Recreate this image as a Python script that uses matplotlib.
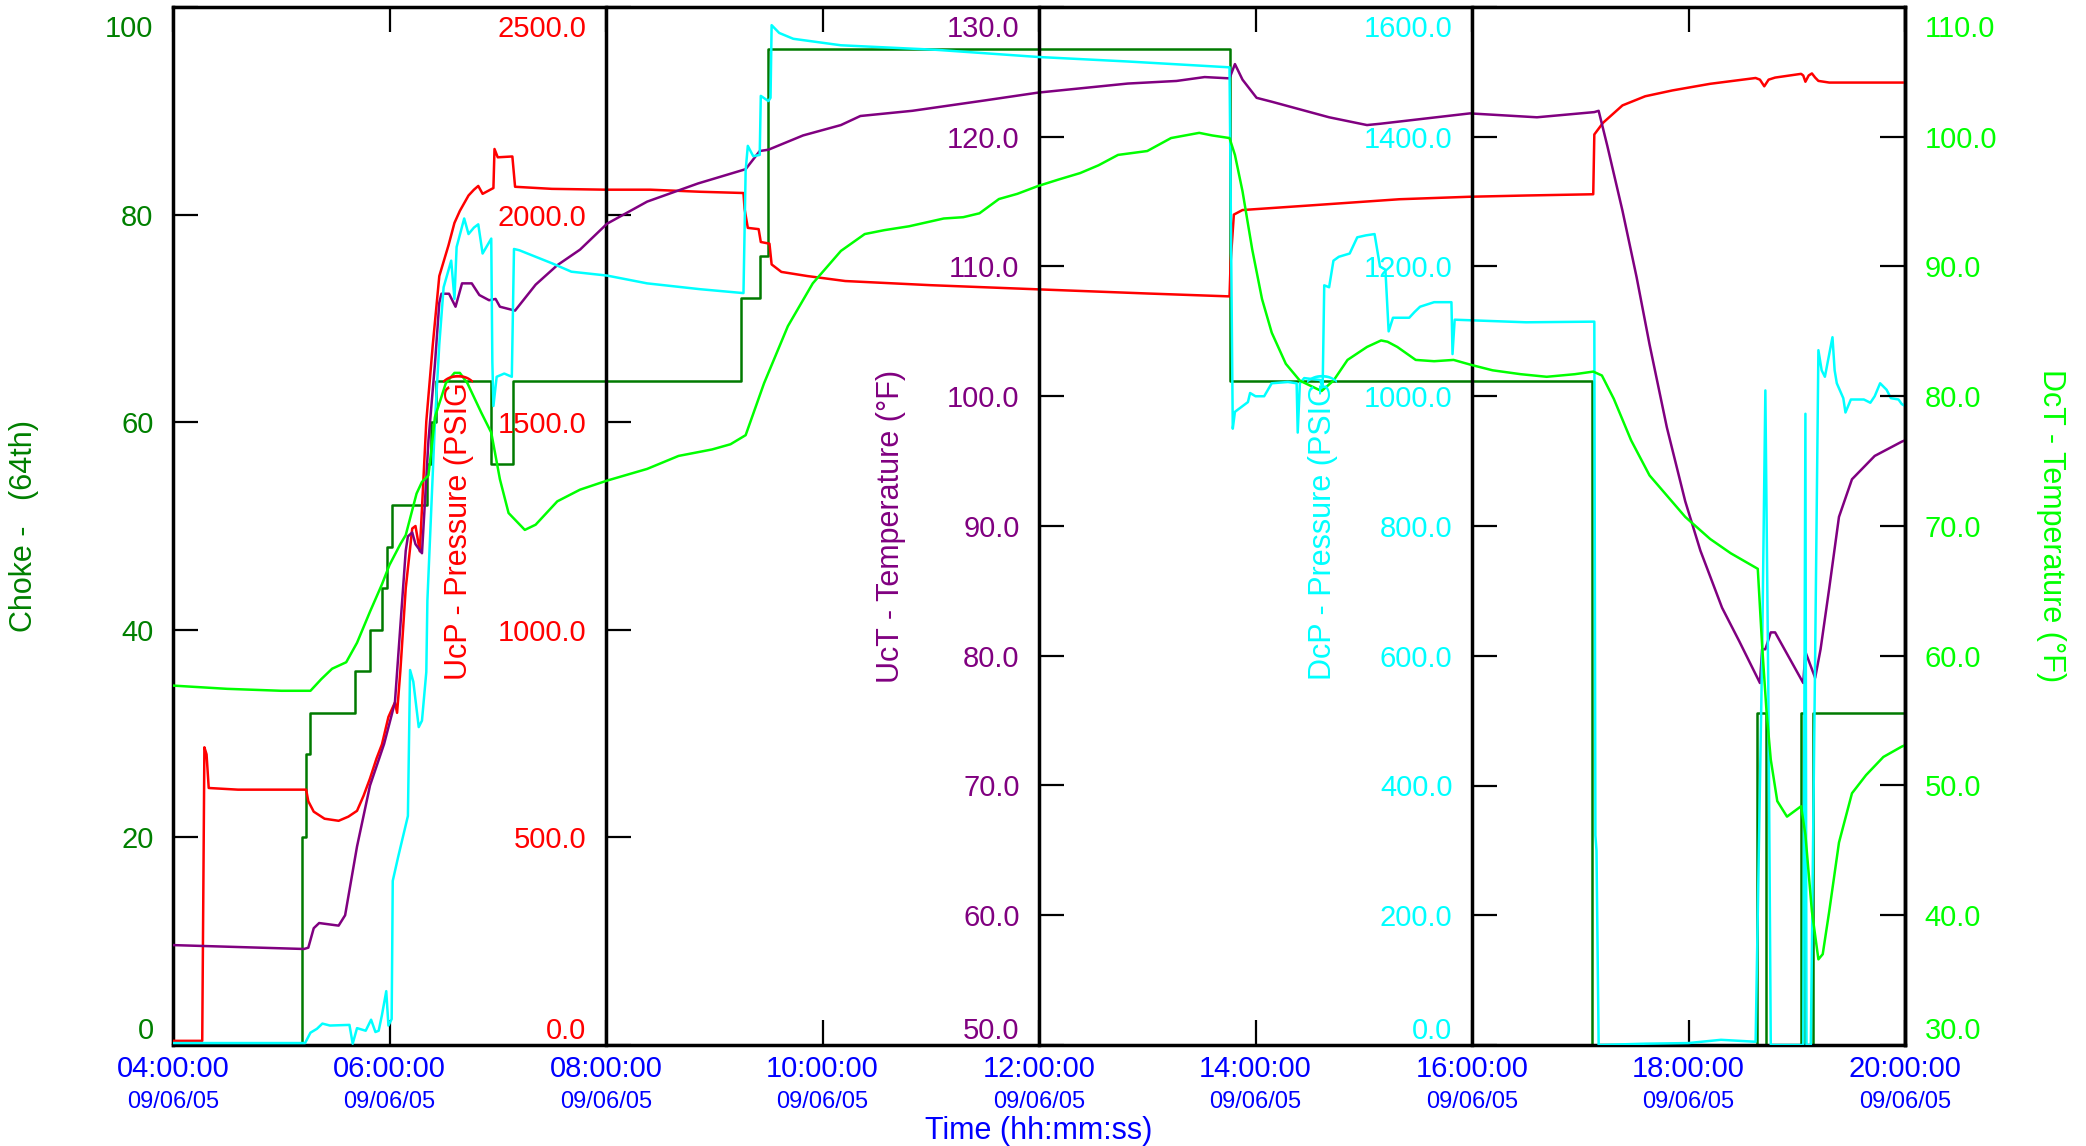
import matplotlib
matplotlib.use('Agg')
import matplotlib.pyplot as plt
from matplotlib.transforms import offset_copy

plt.rcParams['font.family'] = ['Liberation Sans', 'DejaVu Sans']

# ---------------- data (time in hours of 09/06/05) ----------------
time_ticks = [4, 6, 8, 10, 12, 14, 16, 18, 20]
time_labels = ["04:00:00", "06:00:00", "08:00:00", "10:00:00", "12:00:00",
               "14:00:00", "16:00:00", "18:00:00", "20:00:00"]
date_labels = ["09/06/05"] * 9

choke_ticks = [0, 20, 40, 60, 80, 100]
choke_labels = ["0", "20", "40", "60", "80", "100"]
ucp_ticks = [0, 500, 1000, 1500, 2000, 2500]
ucp_labels = ["0.0", "500.0", "1000.0", "1500.0", "2000.0", "2500.0"]
uct_ticks = [50, 60, 70, 80, 90, 100, 110, 120, 130]
uct_labels = ["50.0", "60.0", "70.0", "80.0", "90.0", "100.0", "110.0", "120.0", "130.0"]
dcp_ticks = [0, 200, 400, 600, 800, 1000, 1200, 1400, 1600]
dcp_labels = ["0.0", "200.0", "400.0", "600.0", "800.0", "1000.0", "1200.0", "1400.0", "1600.0"]
dct_ticks = [30, 40, 50, 60, 70, 80, 90, 100, 110]
dct_labels = ["30.0", "40.0", "50.0", "60.0", "70.0", "80.0", "90.0", "100.0", "110.0"]

# Choke (64th) - step changes (value holds until next time)
choke_t = [4.0, 5.19, 5.23, 5.27, 5.68, 5.82, 5.93, 5.98, 6.02, 6.35, 6.38, 6.43,
           6.94, 7.14, 9.245, 9.42, 9.50, 13.76, 17.11, 18.63, 18.72, 19.04, 19.08,
           19.15, 20.0]
choke_v = [0, 20, 28, 32, 36, 40, 44, 48, 52, 56, 60, 64,
           56, 64, 72, 76, 96, 64, 0, 32, 0, 32, 0,
           32, 32]

# UcP - Pressure (PSIG)
ucp_t = [4.00, 4.27, 4.29, 4.31, 4.33, 4.60, 5.23, 5.25, 5.30, 5.40, 5.53, 5.62, 5.70,
         5.76, 5.82, 5.88, 5.93, 5.99, 6.05, 6.07, 6.10, 6.15, 6.21, 6.24, 6.28, 6.34,
         6.40, 6.46, 6.545, 6.60, 6.65, 6.73, 6.78, 6.82, 6.86, 6.96, 6.97, 7.00, 7.135,
         7.16, 7.50, 8.00, 8.41, 8.87, 9.27, 9.28, 9.31, 9.41, 9.43, 9.51, 9.53, 9.62,
         9.86, 10.21, 11.00, 11.99, 13.00, 13.76, 13.77, 13.80, 13.88, 14.50, 15.33,
         15.98, 16.50, 17.12, 17.13, 17.21, 17.39, 17.60, 17.85, 18.20, 18.62, 18.66,
         18.70, 18.74, 18.80, 19.04, 19.06, 19.08, 19.11, 19.14, 19.17, 19.20, 19.30,
         20.00]
ucp_v = [10, 10, 717, 700, 619, 615, 615, 587, 562, 545, 540, 550, 564,
         600, 642, 690, 724, 790, 825, 800, 900, 1100, 1244, 1250, 1189, 1502,
         1687, 1852, 1926, 1980, 2009, 2046, 2060, 2069, 2050, 2064, 2158, 2138, 2140,
         2067, 2062, 2060, 2060, 2055, 2052, 2014, 1968, 1965, 1934, 1930, 1880, 1862,
         1852, 1840, 1830, 1820, 1810, 1803, 1884, 2000, 2011, 2022, 2037,
         2043, 2046, 2049, 2193, 2221, 2263, 2285, 2299, 2315, 2329, 2325,
         2309, 2325, 2330, 2339, 2335, 2320, 2335, 2340, 2330, 2322, 2318,
         2318]

# UcT - Temperature (F)
uct_t = [4.00, 5.21, 5.25, 5.30, 5.35, 5.53, 5.59, 5.70, 5.82, 5.95, 6.05, 6.15, 6.17,
         6.21, 6.24, 6.30, 6.36, 6.42, 6.46, 6.48, 6.55, 6.61, 6.67, 6.76, 6.83, 6.92,
         6.98, 7.02, 7.16, 7.35, 7.55, 7.76, 8.01, 8.38, 8.85, 9.29, 9.42, 9.50, 9.82,
         10.17, 10.35, 10.83, 11.50, 11.99, 12.82, 13.27, 13.53, 13.76, 13.81, 13.88,
         14.01, 14.15, 14.68, 15.03, 15.15, 15.98, 16.60, 17.13, 17.17, 17.25, 17.39,
         17.52, 17.64, 17.80, 17.97, 18.11, 18.31, 18.47, 18.66, 18.68, 18.71, 18.76,
         18.80, 19.06, 19.08, 19.17, 19.22, 19.30, 19.39, 19.51, 19.72, 19.97, 20.00]
uct_v = [57.7, 57.4, 57.5, 59.0, 59.4, 59.2, 60.0, 65.3, 70.0, 73.2, 76.4, 88.1, 89.2,
         89.5, 88.6, 87.9, 96.6, 102.5, 107.2, 107.9, 107.9, 106.9, 108.7, 108.7, 107.8, 107.4,
         107.5, 106.9, 106.6, 108.6, 110.1, 111.3, 113.3, 115.0, 116.4, 117.5, 118.9, 119.0, 120.1,
         120.9, 121.6, 122.0, 122.8, 123.4, 124.1, 124.3, 124.6, 124.5, 125.6, 124.4,
         123.0, 122.7, 121.5, 120.9, 121.0, 121.8, 121.5, 121.9, 122.0, 119.3, 114.3,
         109.2, 104.0, 97.6, 91.9, 88.1, 83.7, 81.1, 77.9, 80.5, 80.5, 81.8,
         81.8, 77.9, 80.3, 78.3, 80.5, 85.2, 90.7, 93.6, 95.4, 96.5, 96.6]

# DcP - Pressure (PSIG)
dcp_t = [4.00, 5.22, 5.27, 5.33, 5.38, 5.45, 5.63, 5.66, 5.70, 5.78, 5.83, 5.87, 5.90,
         5.93, 5.97, 5.99, 6.02, 6.03, 6.08, 6.17, 6.19, 6.22, 6.27, 6.30, 6.34, 6.35,
         6.42, 6.46, 6.50, 6.57, 6.60, 6.62, 6.69, 6.73, 6.78, 6.82, 6.86, 6.94, 6.95,
         6.96, 6.99, 7.06, 7.13, 7.15, 7.20, 7.35, 7.50, 7.68, 8.01, 8.38, 8.87, 9.27,
         9.29, 9.31, 9.36, 9.42, 9.43, 9.50, 9.52, 9.53, 9.60, 9.73, 10.17, 11.05, 11.99,
         12.82, 13.76, 13.79, 13.81, 13.93, 13.95, 14.00, 14.08, 14.15, 14.30, 14.38,
         14.39, 14.41, 14.45, 14.60, 14.62, 14.635, 14.68, 14.72, 14.77, 14.87, 14.94,
         15.02, 15.10, 15.15, 15.20, 15.23, 15.27, 15.42, 15.47, 15.52, 15.65, 15.81,
         15.82, 15.84, 16.50, 17.13, 17.14, 17.15, 17.17, 17.60, 18.00, 18.30, 18.62,
         18.68, 18.71, 18.74, 18.76, 19.06, 19.08, 19.09, 19.13, 19.17, 19.20, 19.23,
         19.26, 19.33, 19.35, 19.37, 19.43, 19.45, 19.50, 19.62, 19.68, 19.72, 19.77,
         19.83, 19.87, 19.94, 19.97, 20.00]
dcp_v = [3, 3, 19, 25, 33, 30, 31, 2, 26, 22, 39, 20, 22,
         46, 83, 30, 40, 253, 290, 353, 578, 560, 490, 500, 575, 685,
         961, 1080, 1168, 1209, 1150, 1230, 1274, 1250, 1260, 1265, 1220, 1243, 1053,
         985, 1030, 1035, 1030, 1227, 1225, 1215, 1205, 1192, 1186, 1174, 1165, 1159,
         1348, 1386, 1370, 1372, 1463, 1455, 1460, 1572, 1560, 1551, 1541, 1534, 1523,
         1516, 1507, 950, 976, 991, 1005, 1000, 1000, 1020, 1022, 1020,
         944, 1020, 1028, 1025, 1010, 1171, 1168, 1209, 1215, 1220, 1245,
         1248, 1250, 1200, 1195, 1100, 1121, 1121, 1130, 1138, 1145, 1145,
         1065, 1118, 1114, 1115, 323, 300, 0, 2, 3, 8, 5,
         600, 1009, 500, 0, 0, 973, 0, 0, 600, 1071, 1040,
         1030, 1091, 1040, 1020, 997, 975, 995, 995, 990, 1000, 1020,
         1010, 997, 995, 988, 985]

# DcT - Temperature (F)
dct_t = [4.00, 4.50, 5.00, 5.27, 5.37, 5.47, 5.60, 5.70, 5.82, 5.93, 6.00, 6.10, 6.15,
         6.25, 6.30, 6.36, 6.42, 6.52, 6.60, 6.65, 6.72, 6.85, 6.94, 7.02, 7.10, 7.25,
         7.35, 7.55, 7.76, 8.01, 8.38, 8.67, 8.98, 9.15, 9.29, 9.46, 9.68, 9.91, 10.17,
         10.39, 10.57, 10.80, 11.12, 11.30, 11.45, 11.63, 11.80, 11.99, 12.18, 12.38,
         12.55, 12.73, 13.00, 13.22, 13.48, 13.60, 13.76, 13.81, 13.88, 13.97, 14.06,
         14.15, 14.28, 14.41, 14.61, 14.72, 14.85, 15.03, 15.16, 15.22, 15.31, 15.48,
         15.65, 15.83, 16.00, 16.19, 16.45, 16.69, 16.95, 17.12, 17.20, 17.31, 17.47,
         17.64, 17.97, 18.20, 18.39, 18.64, 18.68, 18.72, 18.76, 18.82, 18.91, 19.04,
         19.08, 19.14, 19.20, 19.24, 19.30, 19.39, 19.51, 19.64, 19.80, 19.97, 20.00]
dct_v = [57.7, 57.45, 57.3, 57.3, 58.2, 59.0, 59.5, 61.0, 63.4, 65.5, 67.0, 68.6, 69.3,
         72.5, 73.4, 73.9, 78.4, 81.0, 81.8, 81.8, 81.0, 78.7, 77.2, 73.6, 71.0, 69.7,
         70.1, 71.9, 72.8, 73.5, 74.4, 75.4, 75.9, 76.3, 77.0, 81.0, 85.4, 88.7, 91.2,
         92.5, 92.8, 93.1, 93.7, 93.8, 94.1, 95.2, 95.6, 96.2, 96.7, 97.2,
         97.8, 98.6, 98.9, 99.9, 100.3, 100.1, 99.9, 98.6, 95.8, 91.3, 87.5,
         84.9, 82.5, 81.2, 80.4, 81.2, 82.8, 83.8, 84.3, 84.2, 83.8, 82.8,
         82.7, 82.8, 82.4, 82.0, 81.7, 81.5, 81.7, 81.9, 81.6, 79.8, 76.6,
         73.9, 70.7, 69.0, 67.9, 66.7, 60.8, 55.8, 52.0, 48.8, 47.6, 48.4,
         46.2, 40.3, 36.6, 37.0, 40.3, 45.6, 49.4, 50.8, 52.2, 53.0, 53.1]

# ---------------- styling ----------------
C_CHOKE = '#007A00'
C_UCP = '#FF0000'
C_UCT = '#800080'
C_DCP = '#00FFFF'
C_DCT = '#00FF00'
C_TIME = '#0000FF'

W, H = 2086, 1146
L, R, T, B = 173, 1905, 7, 1045
fig = plt.figure(figsize=(W / 100, H / 100), dpi=100)
ax = fig.add_axes([L / W, 1 - B / H, (R - L) / W, (B - T) / H])

SPW = 2.5
TICKLEN = 18
TICKW = 1.6
LW = 1.8
FS_TICK = 21
FS_LAB = 22

# host axis (Choke)
ax.set_xlim(4, 20)
ax.set_ylim(0, 100)
for s in ax.spines.values():
    s.set_linewidth(SPW)
    s.set_color('black')
ax.set_yticks(choke_ticks, choke_labels)
ax.yaxis.set_ticks_position('left')
ax.tick_params(axis='y', direction='in', length=TICKLEN, width=TICKW, pad=14,
               labelsize=FS_TICK, labelcolor='#008000', color='black')
ax.set_xticks(time_ticks, time_labels)
ax.set_xticks(time_ticks, date_labels, minor=True)
ax.xaxis.remove_overlapping_locs = False
ax.tick_params(axis='x', which='major', direction='in', length=TICKLEN, width=TICKW,
               top=True, bottom=True, labeltop=False, labelsize=FS_TICK,
               labelcolor=C_TIME, pad=7)
ax.tick_params(axis='x', which='minor', direction='in', length=0, top=False,
               bottom=True, labelsize=17, labelcolor=C_TIME, pad=33)
ax.plot(choke_t, choke_v, color=C_CHOKE, lw=LW, drawstyle='steps-post')


def make_twin(side, pos, ticks, labels, color, lim):
    a = ax.twinx()
    for s in a.spines.values():
        s.set_visible(False)
    sp = a.spines[side]
    sp.set_visible(True)
    sp.set_position(('axes', pos))
    sp.set_linewidth(SPW)
    sp.set_color('black')
    a.set_ylim(*lim)
    a.set_yticks(ticks, labels)
    a.yaxis.set_ticks_position(side)
    a.tick_params(axis='y', direction='in', length=TICKLEN, width=TICKW, pad=14,
                  labelsize=FS_TICK, labelcolor=color, color='black')
    return a


ax_ucp = make_twin('left', 0.25, ucp_ticks, ucp_labels, C_UCP, (0, 2500))
ax_uct = make_twin('left', 0.50, uct_ticks, uct_labels, C_UCT, (50, 130))
ax_dcp = make_twin('left', 0.75, dcp_ticks, dcp_labels, C_DCP, (0, 1600))
ax_dct = make_twin('right', 1.0, dct_ticks, dct_labels, C_DCT, (30, 110))

ax_ucp.plot(ucp_t, ucp_v, color=C_UCP, lw=LW)
ax_uct.plot(uct_t, uct_v, color=C_UCT, lw=LW)
ax_dcp.plot(dcp_t, dcp_v, color=C_DCP, lw=LW)
ax_dct.plot(dct_t, dct_v, color=C_DCT, lw=LW)


def shift_extremes(a, right=False):
    ticks = a.yaxis.get_major_ticks()
    lo = ticks[0].label2 if right else ticks[0].label1
    hi = ticks[-1].label2 if right else ticks[-1].label1
    lo.set_va('bottom')
    hi.set_va('top')
    hi.set_transform(offset_copy(hi.get_transform(), fig=fig, y=-8, units='dots'))


shift_extremes(ax)
shift_extremes(ax_ucp)
shift_extremes(ax_uct)
shift_extremes(ax_dcp)
shift_extremes(ax_dct, right=True)

# axis titles
yc = 1 - 526 / H
fig.text(24 / W, yc, "Choke -   (64th)", rotation=90, ha='center', va='center',
         color='#008000', fontsize=FS_LAB)
fig.text(459 / W, yc, "UcP - Pressure (PSIG)", rotation=90, ha='center', va='center',
         color=C_UCP, fontsize=FS_LAB)
fig.text(891 / W, yc, "UcT - Temperature (°F)", rotation=90, ha='center', va='center',
         color=C_UCT, fontsize=FS_LAB)
fig.text(1323 / W, yc, "DcP - Pressure (PSIG)", rotation=90, ha='center', va='center',
         color=C_DCP, fontsize=FS_LAB)
fig.text(2051 / W, yc, "DcT - Temperature (°F)", rotation=270, ha='center', va='center',
         color=C_DCT, fontsize=FS_LAB)
fig.text(1039 / W, 1 - 1131 / H, "Time (hh:mm:ss)", ha='center', va='center',
         color=C_TIME, fontsize=FS_LAB)

fig.savefig('out.png', dpi=100)
